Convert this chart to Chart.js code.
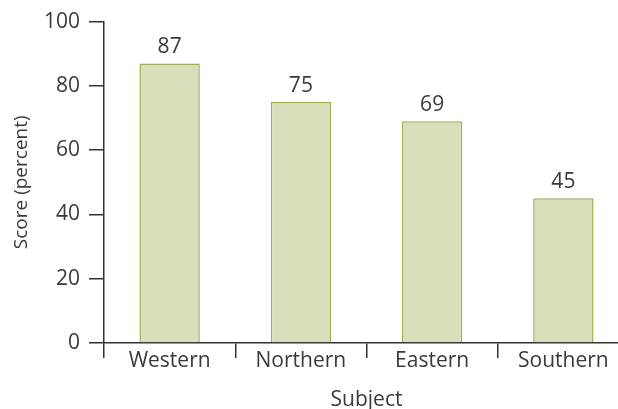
<!DOCTYPE html>
<html><head><meta charset="utf-8">
<script src="https://cdn.jsdelivr.net/npm/chart.js@4/dist/chart.umd.min.js"></script>
<style>html,body{margin:0;padding:0;overflow:hidden;background:#fff;width:618px;height:409px}#wrap{width:640px;height:409px}</style>
</head><body><div id="wrap"><canvas id="c" width="640" height="409"></canvas></div>
<script>
const categories = ["Western", "Northern", "Eastern", "Southern"];
const scores = [87, 75, 69, 45];
const yTicks = [0, 20, 40, 60, 80, 100];
const xTitle = "Subject";
const yTitle = "Score (percent)";

const FONT = "'Open Sans'";
const TXT = "#3a3a3a";
const AX = "#333333";

const valueLabels = {
  id: "valueLabels",
  afterDatasetsDraw(chart) {
    const ctx = chart.ctx;
    const meta = chart.getDatasetMeta(0);
    ctx.save();
    ctx.font = "400 21px " + FONT;
    ctx.fillStyle = TXT;
    ctx.textAlign = "center";
    ctx.textBaseline = "alphabetic";
    meta.data.forEach((bar, i) => {
      ctx.fillText(String(chart.data.datasets[0].data[i]), bar.x, bar.y - 10);
    });
    ctx.restore();
  }
};

new Chart(document.getElementById("c"), {
  type: "bar",
  data: {
    labels: categories,
    datasets: [{
      data: scores,
      backgroundColor: "#d7dfbb",
      borderColor: "#9db254",
      borderWidth: 1.5,
      barPercentage: 0.46,
      categoryPercentage: 1.0
    }]
  },
  options: {
    responsive: false,
    animation: false,
    devicePixelRatio: 1,
    layout: { padding: { top: 17, right: 11, left: 0, bottom: 0 } },
    plugins: { legend: { display: false }, tooltip: { enabled: false } },
    scales: {
      x: {
        offset: true,
        grid: { display: true, offset: true, drawOnChartArea: false, drawTicks: true, tickLength: 15, color: AX, lineWidth: 1.5 },
        border: { display: true, color: AX, width: 1.5 },
        ticks: { color: TXT, font: { family: FONT, size: 21, weight: 400 }, padding: -10 },
        title: { display: true, text: xTitle, color: TXT, font: { family: FONT, size: 21, weight: 400 }, padding: { top: 0, bottom: -4 } },
        afterFit(s) { s.height = 66; }
      },
      y: {
        min: 0, max: 100,
        afterBuildTicks(s) { s.ticks = yTicks.map(v => ({ value: v })); },
        grid: { display: true, drawOnChartArea: false, drawTicks: true, tickLength: 15, color: AX, lineWidth: 1.5 },
        border: { display: true, color: AX, width: 1.5 },
        ticks: { color: TXT, font: { family: FONT, size: 21, weight: 400 }, padding: 9 },
        title: { display: true, text: yTitle, color: TXT, font: { family: FONT, size: 19, weight: 400 }, padding: { top: 10, bottom: 0 } },
        afterFit(s) { s.width = 104; }
      }
    }
  },
  plugins: [valueLabels]
});
</script></body></html>
